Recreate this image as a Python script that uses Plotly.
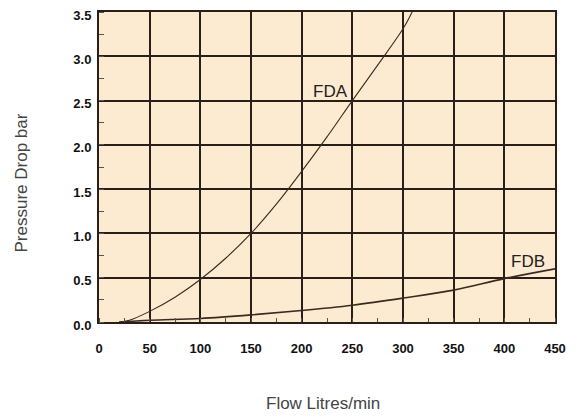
import plotly.graph_objects as go

# FDA curve
fda_flow = [20, 30, 50, 75, 100, 125, 150, 175, 200, 225, 250, 275, 300, 309]
fda_dp = [0.0, 0.02, 0.12, 0.28, 0.48, 0.72, 1.0, 1.33, 1.70, 2.09, 2.5, 2.9, 3.31, 3.5]

# FDB curve
fdb_flow = [20, 50, 100, 150, 200, 250, 300, 350, 400, 450]
fdb_dp = [0.0, 0.02, 0.04, 0.08, 0.13, 0.19, 0.27, 0.36, 0.49, 0.6]

x_ticks = [0, 50, 100, 150, 200, 250, 300, 350, 400, 450]
y_ticks = [0.0, 0.5, 1.0, 1.5, 2.0, 2.5, 3.0, 3.5]
y_tick_labels = ["0.0", "0.5", "1.0", "1.5", "2.0", "2.5", "3.0", "3.5"]

line_col = "#3a2a20"
grid_col = "#2a1e18"
font_fam = "Liberation Sans, Arial"

fig = go.Figure()
fig.add_trace(go.Scatter(x=fda_flow, y=fda_dp, mode="lines", line=dict(color=line_col, width=1.1, shape="spline"),
                         showlegend=False, hoverinfo="skip"))
fig.add_trace(go.Scatter(x=fdb_flow, y=fdb_dp, mode="lines", line=dict(color=line_col, width=1.6, shape="spline"),
                         showlegend=False, hoverinfo="skip"))

fig.add_annotation(x=228, y=2.6, text="FDA", showarrow=False, xref="x", yref="y",
                   font=dict(family=font_fam, size=17, color="#222"))
fig.add_annotation(x=423, y=0.68, text="FDB", showarrow=False, xref="x", yref="y",
                   font=dict(family=font_fam, size=17, color="#222"))

# axis titles (plot area spans page x 99..555, y 12..322)
fig.add_annotation(x=(21 - 99) / 456, y=(322 - 183.5) / 310, xref="paper", yref="paper",
                   text="Pressure Drop bar", showarrow=False,
                   textangle=-90, xanchor="center", yanchor="middle",
                   font=dict(family=font_fam, size=17, color="#444"))
fig.add_annotation(x=(323 - 99) / 456, y=-(403 - 322) / 310, xref="paper", yref="paper",
                   text="Flow Litres/min", showarrow=False, xanchor="center", yanchor="middle",
                   font=dict(family=font_fam, size=17, color="#444"))

fig.update_xaxes(range=[0, 450], tickvals=x_ticks, ticktext=[str(v) for v in x_ticks],
                 showgrid=True, gridcolor=grid_col, gridwidth=2, zeroline=False,
                 showline=True, linecolor=grid_col, linewidth=2, mirror=True, automargin=False,
                 ticks="", ticklabelstandoff=13,
                 tickfont=dict(family=font_fam, size=13, color="#111", weight="bold"),
                 minor=dict(ticks="inside", ticklen=4, tickcolor="#555", tickwidth=1, dtick=25, tick0=25, showgrid=False))
fig.update_yaxes(range=[0, 3.5], tickvals=y_ticks, ticktext=y_tick_labels,
                 showgrid=True, gridcolor=grid_col, gridwidth=2, zeroline=False,
                 showline=True, linecolor=grid_col, linewidth=2, mirror=True, automargin=False,
                 ticks="", ticklabelstandoff=3, ticklabelshift=3, ticklabeloverflow="allow",
                 tickfont=dict(family=font_fam, size=13, color="#111", weight="bold"),
                 minor=dict(ticks="inside", ticklen=5, tickcolor="#555", tickwidth=1, dtick=0.25, tick0=0.25, showgrid=False))

fig.update_layout(width=570, height=409, margin=dict(l=91, r=23, t=4, b=95, autoexpand=False),
                  plot_bgcolor="#fcebd0", paper_bgcolor="white")

fig.write_html("out.html")
